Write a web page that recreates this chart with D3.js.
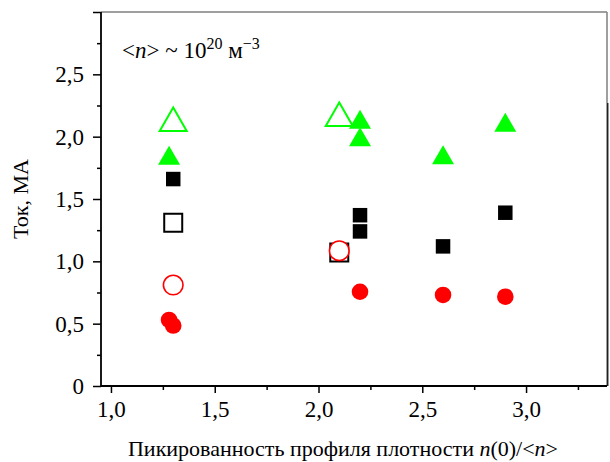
<!DOCTYPE html>
<html><head><meta charset="utf-8">
<script src="https://cdn.jsdelivr.net/npm/d3@7/dist/d3.min.js"></script>
<style>body{margin:0;background:#fff}svg{display:block}text{font-family:"Liberation Serif","Times New Roman",serif;fill:#000}</style>
</head><body>
<svg id="c" width="610" height="462"></svg>
<script>
// Data
const filledTriX = [1.28, 2.2, 2.2, 2.6, 2.9];
const filledTriY = [1.85, 2.14, 2.0, 1.855, 2.115];
const openTriX = [1.3, 2.1];
const openTriY = [2.14, 2.18];
const filledSqX = [1.3, 2.2, 2.2, 2.6, 2.9];
const filledSqY = [1.66, 1.37, 1.24, 1.12, 1.39];
const openSqX = [1.3, 2.1];
const openSqY = [1.31, 1.07];
const filledCircX = [1.28, 1.3, 2.2, 2.6, 2.9];
const filledCircY = [0.53, 0.485, 0.756, 0.73, 0.716];
const openCircX = [1.3, 2.1];
const openCircY = [0.81, 1.085];
const xMajor = [1.0, 1.5, 2.0, 2.5, 3.0];
const xMinor = [1.25, 1.75, 2.25, 2.75, 3.25];
const yMajor = [0, 0.5, 1.0, 1.5, 2.0, 2.5, 3.0];
const yMinor = [0.25, 0.75, 1.25, 1.75, 2.25, 2.75];
const yLabels = ["0", "0,5", "1,0", "1,5", "2,0", "2,5", ""];
const xLabels = ["1,0", "1,5", "2,0", "2,5", "3,0"];

const svg = d3.select("#c");
const L = 101, R = 607, T = 12, B = 386;
const x = d3.scaleLinear().domain([0.952, 3.39]).range([L, R]);
const y = d3.scaleLinear().domain([0, 3]).range([B, T]);
const FONT = "'Liberation Serif', 'Times New Roman', serif";

// frame top/right (gray)
svg.append("line").attr("x1", L).attr("x2", R).attr("y1", T).attr("y2", T).attr("stroke", "#7f7f7f").attr("stroke-width", 1.5);
svg.append("line").attr("x1", R).attr("x2", R).attr("y1", T).attr("y2", B).attr("stroke", "#7f7f7f").attr("stroke-width", 1.5);
svg.append("line").attr("x1", R + 0.8).attr("x2", R + 0.8).attr("y1", 103).attr("y2", B).attr("stroke", "#000").attr("stroke-width", 1.2);

// axes
const xAxisG = svg.append("g").attr("transform", `translate(0,${B})`);
xAxisG.call(d3.axisBottom(x).tickValues(xMajor).tickSize(7).tickPadding(8).tickFormat((d, i) => xLabels[i]));
const xMinG = svg.append("g").attr("transform", `translate(0,${B})`);
xMinG.call(d3.axisBottom(x).tickValues(xMinor).tickSize(4).tickFormat(""));
const yAxisG = svg.append("g").attr("transform", `translate(${L},0)`);
yAxisG.call(d3.axisLeft(y).tickValues(yMajor).tickSize(8).tickPadding(9).tickFormat((d, i) => yLabels[i]));
const yMinG = svg.append("g").attr("transform", `translate(${L},0)`);
yMinG.call(d3.axisLeft(y).tickValues(yMinor).tickSize(4).tickFormat(""));
[xAxisG, xMinG, yAxisG, yMinG].forEach(g => {
  g.attr("font-family", FONT).attr("font-size", 23);
  g.select(".domain").remove();
  g.selectAll(".tick line").attr("stroke", "#000").attr("stroke-width", 1.5);
  g.selectAll(".tick text").attr("font-family", FONT).attr("font-size", 23).attr("fill", "#000");
});
svg.append("line").attr("x1", L).attr("x2", R).attr("y1", B).attr("y2", B).attr("stroke", "#000").attr("stroke-width", 1.8);
svg.append("line").attr("x1", L).attr("x2", L).attr("y1", T).attr("y2", B).attr("stroke", "#000").attr("stroke-width", 1.8);

// symbols
function tri(w, h) { return `M0,${-h/2}L${w/2},${h/2}L${-w/2},${h/2}Z`; }
function sq(s) { return `M${-s/2},${-s/2}h${s}v${s}h${-s}Z`; }
const plot = svg.append("g");
function pts(xs, ys) { return xs.map((v, i) => [v, ys[i]]); }

plot.selectAll(".osq").data(pts(openSqX, openSqY)).join("path")
  .attr("d", sq(18)).attr("transform", d => `translate(${x(d[0])},${y(d[1])})`)
  .attr("fill", "#fff").attr("stroke", "#000").attr("stroke-width", 2);
plot.selectAll(".fsq").data(pts(filledSqX, filledSqY)).join("path")
  .attr("d", sq(14.5)).attr("transform", d => `translate(${x(d[0])},${y(d[1])})`)
  .attr("fill", "#000");
plot.selectAll(".otri").data(pts(openTriX, openTriY)).join("path")
  .attr("d", tri(27, 23.5)).attr("transform", d => `translate(${x(d[0])},${y(d[1])})`)
  .attr("fill", "#fff").attr("stroke", "#00ff00").attr("stroke-width", 2);
plot.selectAll(".ftri").data(pts(filledTriX, filledTriY)).join("path")
  .attr("d", tri(22, 19)).attr("transform", d => `translate(${x(d[0])},${y(d[1])})`)
  .attr("fill", "#00ff00");
plot.selectAll(".ocirc").data(pts(openCircX, openCircY)).join("circle")
  .attr("cx", d => x(d[0])).attr("cy", d => y(d[1])).attr("r", 9.8)
  .attr("fill", "#fff").attr("stroke", "#ff0000").attr("stroke-width", 1.6);
plot.selectAll(".fcirc").data(pts(filledCircX, filledCircY)).join("circle")
  .attr("cx", d => x(d[0])).attr("cy", d => y(d[1])).attr("r", 8.3)
  .attr("fill", "#ff0000");

// annotation
const ann = svg.append("text").attr("x", 122).attr("y", 58).attr("font-family", FONT).attr("font-size", 23);
ann.append("tspan").text("<");
ann.append("tspan").attr("font-style", "italic").text("n");
ann.append("tspan").text("> ~ 10");
ann.append("tspan").attr("dy", -9).attr("font-size", 16).text("20");
ann.append("tspan").attr("dy", 9).text(" м");
ann.append("tspan").attr("dy", -9).attr("font-size", 16).text("−3");

// axis titles
const xt = svg.append("text").attr("x", 343).attr("y", 456).attr("text-anchor", "middle").attr("font-family", FONT).attr("font-size", 22);
xt.append("tspan").text("Пикированность профиля плотности ");
xt.append("tspan").attr("font-style", "italic").text("n");
xt.append("tspan").text("(0)/<");
xt.append("tspan").attr("font-style", "italic").text("n");
xt.append("tspan").text(">");
svg.append("text").attr("transform", "translate(28,199) rotate(-90)").attr("text-anchor", "middle").attr("font-family", FONT).attr("font-size", 22).text("Ток, МА");
</script>
</body></html>
